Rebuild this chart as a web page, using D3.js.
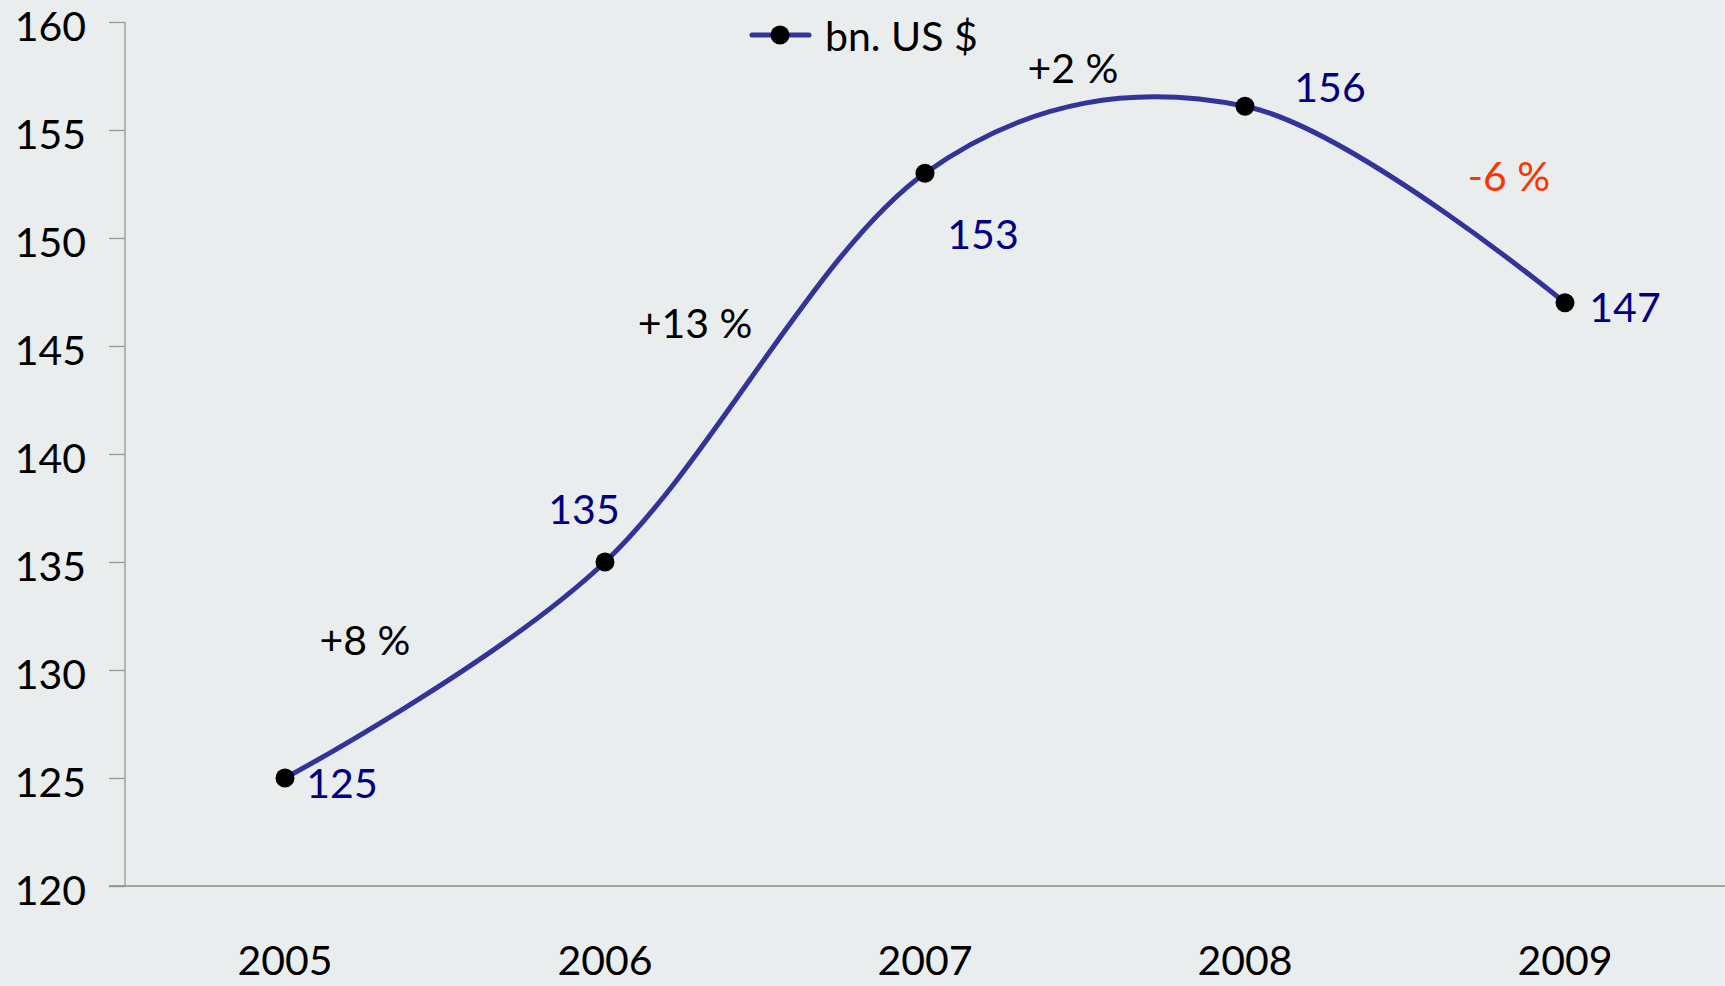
<!DOCTYPE html>
<html>
<head>
<meta charset="utf-8">
<script src="https://cdn.jsdelivr.net/npm/d3@7"></script>
<style>
  body { margin: 0; background: #e9edee; }
  text { font-family: Lato, "Open Sans", sans-serif; }
</style>
</head>
<body>
<div id="chart"></div>
<script>
// Data
const years = ["2005", "2006", "2007", "2008", "2009"];
const values = [125, 135, 153, 156.1, 147];
const valueLabels = ["125", "135", "153", "156", "147"];
const changeLabels = ["+8 %", "+13 %", "+2 %", "-6 %"];
const yTicks = [120, 125, 130, 135, 140, 145, 150, 155, 160];
const seriesName = "bn. US $";

// Label placement (pixel offsets)
const valueOffsets = [[57, 4], [-21, -54], [58, 60], [85, -20], [60, 4]];
const changeOffsets = [[-80, -31], [-70, -45], [-12, -72], [104, -29]];
const changeColors = ["#000", "#000", "#000", "#ff3300"];

const W = 1725, H = 986;
const margin = { top: 22, right: 0, bottom: 100, left: 125 };
const width = W - margin.left - margin.right;
const height = H - margin.top - margin.bottom;

const svg = d3.select("#chart")
    .append("svg")
    .attr("width", W)
    .attr("height", H)
    .style("background", "#e9edee");

const g = svg.append("g")
    .attr("transform", `translate(${margin.left},${margin.top})`);

// Scales
const x = d3.scaleBand()
    .domain(years)
    .range([0, width]);

const y = d3.scaleLinear()
    .domain([120, 160])
    .range([height, 0]);

const cx = d => x(d) + x.bandwidth() / 2;

// Y axis
const yAxis = g.append("g")
    .call(d3.axisLeft(y).tickValues(yTicks).tickSize(16).tickPadding(23));
yAxis.select(".domain").attr("stroke", "#9a9a9a").attr("stroke-width", 1.3)
    .attr("d", `M0,0V${height}`);
yAxis.selectAll(".tick line").attr("stroke", "#9a9a9a").attr("stroke-width", 1.3);
yAxis.selectAll(".tick text")
    .attr("font-size", 41)
    .attr("dy", "0.44em")
    .attr("fill", "#000")
    .style("font-family", "Lato, 'Open Sans', sans-serif");

// X axis
const xAxis = g.append("g")
    .attr("transform", `translate(0,${height})`)
    .call(d3.axisBottom(x).tickSize(0).tickPadding(60));
xAxis.select(".domain").attr("stroke", "#8a8a8a").attr("stroke-width", 1.3)
    .attr("d", `M-16,0H${width}`);
xAxis.selectAll(".tick text")
    .attr("font-size", 41)
    .attr("fill", "#000")
    .style("font-family", "Lato, 'Open Sans', sans-serif");

// Line
const line = d3.line()
    .x((d, i) => cx(years[i]))
    .y(d => y(d))
    .curve(d3.curveCatmullRom.alpha(0));

g.append("path")
    .datum(values)
    .attr("fill", "none")
    .attr("stroke", "#333399")
    .attr("stroke-width", 5)
    .attr("stroke-linejoin", "round")
    .attr("d", line);

// Markers
g.selectAll(".dot")
    .data(values)
    .enter()
    .append("circle")
    .attr("class", "dot")
    .attr("cx", (d, i) => cx(years[i]))
    .attr("cy", d => y(d))
    .attr("r", 9.5)
    .attr("fill", "#000");

// Value labels
g.selectAll(".vlabel")
    .data(values)
    .enter()
    .append("text")
    .attr("class", "vlabel")
    .attr("x", (d, i) => cx(years[i]) + valueOffsets[i][0])
    .attr("y", (d, i) => y(d) + valueOffsets[i][1])
    .attr("text-anchor", "middle")
    .attr("dominant-baseline", "central")
    .attr("font-size", 41)
    .attr("fill", "#000080")
    .text((d, i) => valueLabels[i]);

// Change labels between points
g.selectAll(".clabel")
    .data(changeLabels)
    .enter()
    .append("text")
    .attr("class", "clabel")
    .attr("x", (d, i) => (cx(years[i]) + cx(years[i + 1])) / 2 + changeOffsets[i][0])
    .attr("y", (d, i) => (y(values[i]) + y(values[i + 1])) / 2 + changeOffsets[i][1])
    .attr("text-anchor", "middle")
    .attr("dominant-baseline", "central")
    .attr("font-size", 41)
    .attr("fill", (d, i) => changeColors[i])
    .text(d => d);

// Legend
const legend = svg.append("g")
    .attr("transform", "translate(752,35)");
legend.append("line")
    .attr("x1", 0).attr("x2", 57)
    .attr("y1", 0).attr("y2", 0)
    .attr("stroke", "#333399")
    .attr("stroke-width", 5)
    .attr("stroke-linecap", "round");
legend.append("circle")
    .attr("cx", 28).attr("cy", 0).attr("r", 9.5)
    .attr("fill", "#000");
legend.append("text")
    .attr("x", 73)
    .attr("y", 0)
    .attr("dominant-baseline", "central")
    .attr("font-size", 41)
    .attr("fill", "#000")
    .text(seriesName);
</script>
</body>
</html>
